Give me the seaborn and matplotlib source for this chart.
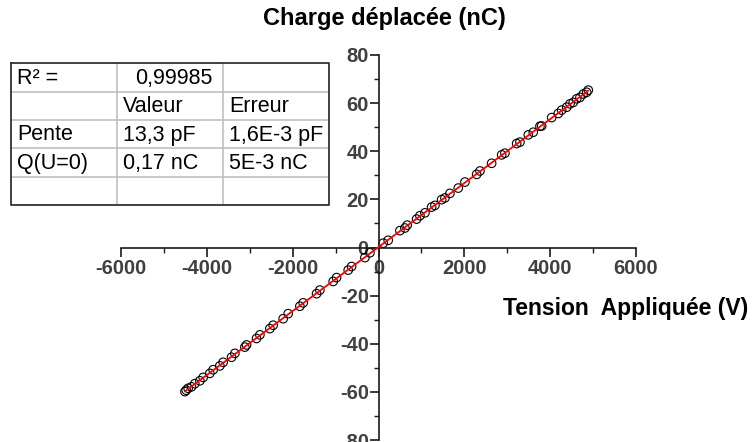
import matplotlib
matplotlib.use("Agg")
import numpy as np
import pandas as pd
import seaborn as sns
from matplotlib import pyplot as plt
from matplotlib.ticker import MultipleLocator

# measured points (V, nC)
tension = [-4510, -4480, -4436, -4357, -4280, -4163, -4086, -3930, -3853, -3697,
           -3620, -3424, -3347, -3114, -3075, -2842, -2764, -2531, -2455, -2221,
           -2105, -1832, -1755, -1443, -1366, -1056, -977, -706, -627, -317, -200,
           110, 226, 499, 615, 669, 888, 965, 1082, 1238, 1315, 1471, 1548, 1664,
           1858, 2014, 2287, 2364, 2636, 2870, 2946, 3219, 3296, 3490, 3606, 3762,
           3802, 4035, 4189, 4268, 4385, 4462, 4538, 4618, 4695, 4772, 4851, 4888]
charge = [-59.9, -59.3, -58.5, -57.9, -56.6, -55.4, -54.0, -52.3, -50.8, -49.2,
          -47.7, -45.6, -44.0, -41.4, -40.5, -37.8, -36.3, -33.7, -32.3, -29.6,
          -27.5, -24.4, -23.0, -19.2, -17.7, -14.1, -12.5, -9.4, -7.9, -4.2, -2.2,
          1.8, 3.0, 7.0, 8.1, 9.3, 11.8, 13.2, 14.4, 16.8, 17.5, 19.9, 20.6, 22.5,
          24.7, 27.2, 30.4, 31.8, 35.0, 38.5, 39.2, 43.2, 43.8, 46.8, 47.9, 50.4,
          50.5, 54.0, 55.7, 57.1, 58.3, 59.7, 60.3, 61.8, 62.4, 63.8, 64.5, 65.4]

table_rows = [["R² =", "0,99985", ""],
              ["", "Valeur", "Erreur"],
              ["Pente", "13,3 pF", "1,6E-3 pF"],
              ["Q(U=0)", "0,17 nC", "5E-3 nC"],
              ["", "", ""]]

df = pd.DataFrame({"U": tension, "Q": charge})

sns.set_theme(style="white")
plt.rcParams['font.family'] = ['Liberation Sans', 'DejaVu Sans']
plt.rcParams['axes.unicode_minus'] = False

W, H = 752, 442
fig = plt.figure(figsize=(W / 100, H / 100), dpi=100)
ax = fig.add_axes([121 / W, 2 / H, 515 / W, 385 / H])

sns.scatterplot(data=df, x="U", y="Q", ax=ax, marker="o", s=38,
                facecolor="none", edgecolor="black", linewidth=0.8, zorder=2)
sns.regplot(data=df, x="U", y="Q", ax=ax, scatter=False, ci=None, truncate=True,
            line_kws=dict(color="#ff0000", lw=1.3, zorder=3))

ax.set_xlim(-6000, 6000)
ax.set_ylim(-80, 80)
ax.set_xlabel("")
ax.set_ylabel("")

# axes crossing at the origin
for side in ["top", "right"]:
    ax.spines[side].set_visible(False)
for side in ["left", "bottom"]:
    ax.spines[side].set_position(("data", 0))
    ax.spines[side].set_linewidth(1.2)
    ax.spines[side].set_color("#1a1a1a")

ax.xaxis.set_major_locator(MultipleLocator(2000))
ax.xaxis.set_minor_locator(MultipleLocator(1000))
ax.yaxis.set_major_locator(MultipleLocator(20))
ax.yaxis.set_minor_locator(MultipleLocator(10))
ax.tick_params(which="both", bottom=True, left=True, top=False, right=False)
ax.tick_params(which="major", direction="out", length=6.5, width=1.2, color="#1a1a1a",
               labelsize=14.5, labelcolor="#404040", pad=2)
ax.tick_params(which="minor", direction="out", length=3.5, width=1.0, color="#1a1a1a")
ax.tick_params(axis="y", which="major", pad=0.5)
for lab in ax.get_xticklabels() + ax.get_yticklabels():
    lab.set_fontweight("bold")

fig.text(384 / W, 1 - 19 / H, "Charge déplacée (nC)", ha="center", va="center",
         fontsize=17, fontweight="bold", color="black")
fig.text(748 / W, 1 - 308 / H, "Tension  Appliquée (V)", ha="right", va="center",
         fontsize=16.5, fontweight="bold", color="black")

# fit results table, in pixel coordinates
tab = fig.add_axes([0, 0, 1, 1], facecolor="none")
tab.set_xlim(0, W)
tab.set_ylim(H, 0)
tab.axis("off")
col_x = [11, 117, 223, 329]
row_y = [63, 92, 120, 148, 177, 205]
for yy in row_y[1:-1]:
    tab.plot([col_x[0], col_x[-1]], [yy, yy], color="#c0c0c0", lw=1.2)
for xx in col_x[1:-1]:
    tab.plot([xx, xx], [row_y[0], row_y[-1]], color="#c0c0c0", lw=1.2)
tab.plot([col_x[0], col_x[-1], col_x[-1], col_x[0], col_x[0]],
         [row_y[0], row_y[0], row_y[-1], row_y[-1], row_y[0]], color="#333333", lw=1.3)
for i, row in enumerate(table_rows):
    yc = (row_y[i] + row_y[i + 1]) / 2 + 1
    for j, txt in enumerate(row):
        if not txt:
            continue
        if i == 0 and j == 1:
            tab.text(col_x[2] - 10, yc, txt, ha="right", va="center", fontsize=15.5, color="black")
        else:
            tab.text(col_x[j] + 6, yc, txt, ha="left", va="center", fontsize=15.5, color="black")

fig.savefig("out.png", dpi=100)
